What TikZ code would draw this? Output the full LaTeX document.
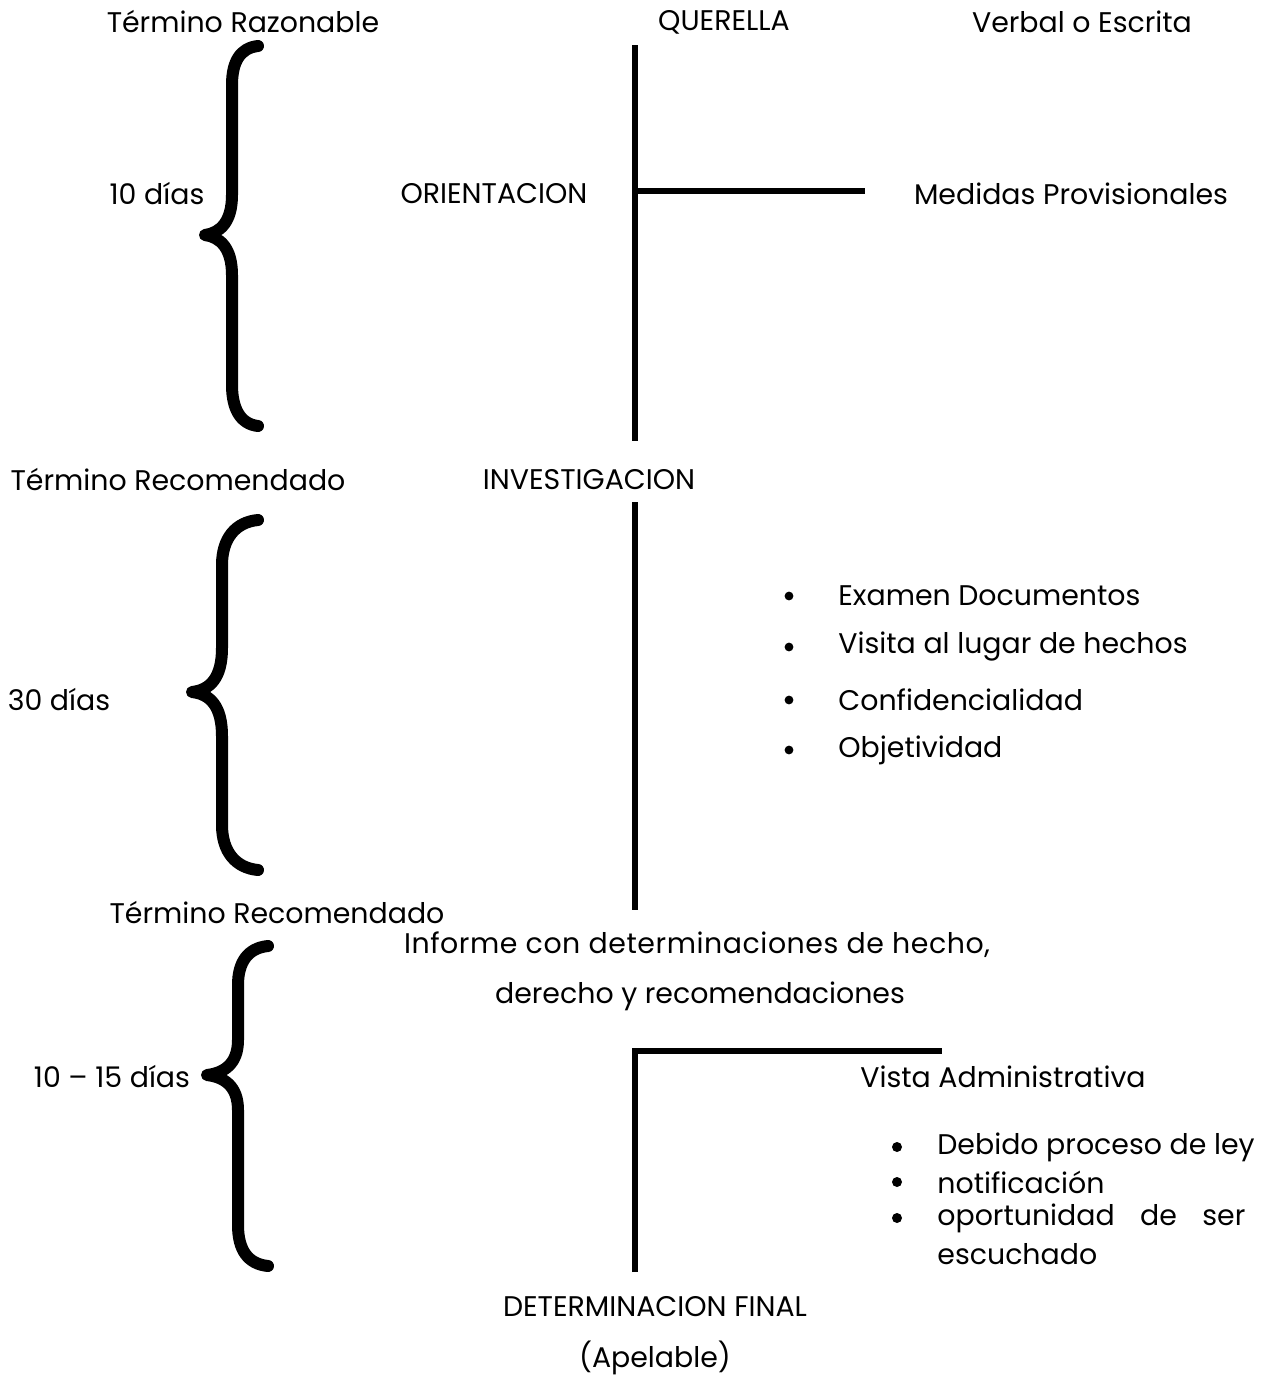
\documentclass[tikz,border=0pt]{standalone}
\usepackage{fontspec}
\setmainfont{Poppins}
\begin{document}
\begin{tikzpicture}[x=0.5pt,y=-0.5pt,
  lbl/.style={inner sep=0pt,font=\fontsize{14.2}{17}\selectfont},
  lbll/.style={lbl,anchor=west},
  dotA/.style={circle,fill,inner sep=0pt,minimum size=4.4pt},
  dotB/.style={circle,fill,inner sep=0pt,minimum size=5pt},
  bracepath/.style={line width=6pt,line cap=round,line join=round},
  bar/.style={line width=2.6pt}]
\useasboundingbox (0,0) rectangle (1272,1376);
% --- top section
\node[lbl] (tr1) at (243,22) {Término Razonable};
\node[lbl] (quer) at (724,22) {QUERELLA};
\node[lbl] (verb) at (1082,22) {Verbal o Escrita};
\node[lbl] (d10) at (157,194) {10 días};
\node[lbl] (orie) at (494,194) {ORIENTACION};
\node[lbl] (medi) at (1071,194) {Medidas Provisionales};
\draw[bracepath] (258,46) .. controls (240,48) and (232,62) .. (232,85)
  -- (232,195) .. controls (232,222) and (220,233) .. (205,235)
  .. controls (220,237) and (232,248) .. (232,275)
  -- (232,385) .. controls (232,408) and (240,424) .. (258,426);
\coordinate (v1t) at (635,45);
\coordinate (v1b) at (635,441);
\coordinate (h1) at (865,191);
\draw[bar] (v1t) -- (v1b);
\draw[bar] (635,191) -- (h1);
% --- middle section
\node[lbl] (tr2) at (178,480) {Término Recomendado};
\node[lbl] (inve) at (589,480) {INVESTIGACION};
\node[lbl] (d30) at (59,700) {30 días};
\draw[bracepath] (258,520) .. controls (236,522) and (222,538) .. (222,565)
  -- (222,648) .. controls (222,678) and (210,690) .. (192,692)
  .. controls (210,694) and (222,706) .. (222,736)
  -- (222,825) .. controls (222,852) and (236,868) .. (258,870);
\coordinate (v2t) at (635,502);
\coordinate (v2b) at (635,910);
\draw[bar] (v2t) -- (v2b);
\foreach \t/\y/\n in {Examen Documentos/596/a, Visita al lugar de hechos/647/b, Confidencialidad/700/c, Objetividad/750/d}{
  \node[dotA] (bu\n) at (789,\y) {};
  \node[lbll] (it\n) at (838,\y) {\t};
}
% --- bottom section
\node[lbl] (tr3) at (277,913) {Término Recomendado};
\node[lbl] (info) at (697,945) {\addfontfeature{LetterSpace=2}Informe con determinaciones de hecho,};
\node[lbl] (dere) at (700,996) {derecho y recomendaciones};
\node[lbl] (d1015) at (112,1077) {10 – 15 días};
\draw[bracepath] (268,946) .. controls (248,948) and (238,962) .. (238,985)
  -- (238,1040) .. controls (238,1064) and (224,1073) .. (207,1075)
  .. controls (224,1077) and (238,1086) .. (238,1110)
  -- (238,1225) .. controls (238,1250) and (248,1264) .. (268,1266);
\coordinate (v3b) at (635,1272);
\coordinate (h3) at (942,1051);
\draw[bar,line join=miter] (v3b) -- (635,1051) -- (h3);
\node[lbl] (vist) at (1003,1077) {Vista Administrativa};
\foreach \y/\n in {1147/e,1182/f,1218/g}{
  \node[dotB] (bu\n) at (897,\y) {};
}
\node[lbll] (ite) at (937,1147) {Debido proceso de ley};
\node[lbll] (itf) at (937,1182) {notificación};
\node[lbll] (itg) at (937,1218) {\makebox[154pt][s]{oportunidad\hfill de\hfill ser}};
\node[lbll] (ith) at (937,1254) {escuchado};
\node[lbl] (dete) at (655,1307) {DETERMINACION FINAL};
\node[lbl] (apel) at (655,1358) {(Apelable)};
\end{tikzpicture}
\end{document}
